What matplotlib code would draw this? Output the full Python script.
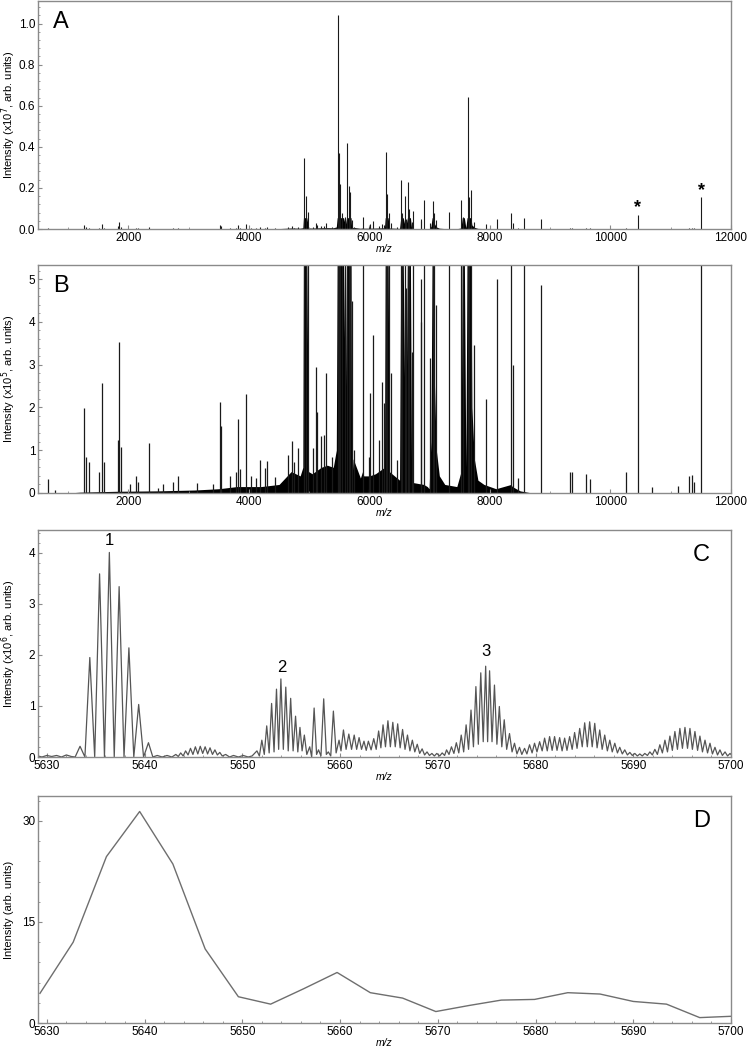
import matplotlib.pyplot as plt
import numpy as np
from matplotlib.ticker import MultipleLocator, AutoMinorLocator

plt.rcParams['font.family'] = ['Liberation Sans', 'DejaVu Sans']

# ---- panel A / B : full MALDI spectrum, peak list in units of 1e5 ----
ab_mz = [671, 780, 1265, 1298, 1354, 1509, 1558, 1591, 1835, 1851, 1879, 2020, 2128, 2160,
         2350, 2490, 2582, 2732, 2821, 3137, 3400, 3525, 3532, 3680, 3780, 3819, 3860, 3958,
         4030, 4120, 4180, 4274, 4301, 4430, 4646, 4707, 4746, 4818, 4910, 4948, 4975, 5060,
         5115, 5130, 5200, 5240, 5285, 5380, 5475, 5497, 5519, 5552, 5590, 5636, 5658, 5680,
         5708, 5750, 5896, 5990, 6017, 6062, 6155, 6210, 6238, 6273, 6295, 6317, 6360, 6450,
         6528, 6544, 6583, 6610, 6639, 6661, 6700, 6716, 6850, 6860, 6910, 7010, 7049, 7071,
         7104, 7326, 7525, 7558, 7635, 7657, 7680, 7730, 7930, 8123, 8355, 8390, 8460, 8560,
         8855, 9330, 9360, 9590, 9663, 10256, 10450, 10687, 11125, 11308, 11347, 11380, 11508]
ab_int = [0.33, 0.08, 1.99, 0.85, 0.72, 0.5, 2.56, 0.73, 1.25, 3.52, 1.08, 0.22, 0.4, 0.25,
          1.18, 0.12, 0.22, 0.26, 0.4, 0.24, 0.2, 2.13, 1.56, 0.4, 0.5, 1.73, 0.55, 2.31,
          0.4, 0.35, 0.77, 0.58, 0.75, 0.38, 0.9, 1.22, 0.72, 1.06, 34.5, 16.0, 8.5, 1.05,
          2.95, 1.9, 1.33, 1.35, 2.8, 0.85, 104.0, 37.0, 22.0, 7.6, 5.8, 42.0, 21.0, 18.0,
          4.5, 1.0, 6.0, 0.85, 2.33, 3.69, 1.24, 2.6, 2.1, 37.4, 17.0, 7.6, 2.8, 0.77,
          24.0, 7.6, 16.0, 4.8, 23.0, 9.6, 3.3, 9.0, 4.0, 5.0, 14.0, 3.15, 13.5, 7.6,
          4.4, 8.5, 14.0, 6.0, 64.5, 15.8, 19.0, 3.46, 2.2, 5.0, 7.6, 3.0, 0.35, 5.5,
          4.87, 0.5, 0.48, 0.44, 0.33, 0.48, 6.8, 0.15, 0.17, 0.39, 0.42, 0.25, 15.5]

# chemical background / peak skirts (units of 1e5)
bg_mz = [500, 1000, 1200, 1800, 2500, 3100, 3500, 3800, 4200, 4500, 4600, 4700, 4850, 4895,
         4905, 4960, 4990, 5050, 5200, 5300, 5400, 5450, 5465, 5570, 5600, 5620, 5695, 5705,
         5730, 5850, 5885, 5905, 6000, 6100, 6250, 6262, 6310, 6330, 6500, 6520, 6560, 6600,
         6630, 6680, 6700, 6900, 6960, 6990, 7020, 7040, 7065, 7080, 7110, 7160, 7250, 7450,
         7520, 7540, 7575, 7600, 7620, 7685, 7700, 7740, 7800, 7900, 8100, 8350, 8370, 8500,
         8700, 12000]
bg_int = [0.0, 0.0, 0.02, 0.04, 0.05, 0.07, 0.1, 0.15, 0.15, 0.2, 0.35, 0.5, 0.4, 0.6,
          5.5, 5.5, 0.5, 0.45, 0.6, 0.65, 0.6, 1.0, 5.5, 5.5, 2.0, 5.5, 5.5, 0.2,
          0.8, 0.35, 0.5, 0.4, 0.4, 0.45, 0.6, 5.5, 5.5, 0.5, 0.3, 5.5, 5.5, 0.4,
          5.5, 5.5, 0.25, 0.2, 0.15, 0.1, 1.2, 5.5, 5.5, 2.5, 1.0, 0.4, 0.2, 0.15,
          0.5, 5.5, 5.5, 0.6, 5.5, 5.5, 2.0, 0.8, 0.3, 0.2, 0.1, 0.2, 0.15, 0.05,
          0.0, 0.0]

star_mz = [10450, 11508]
star_int = [0.106, 0.187]

# ---- panel C : high resolution trace (units of 1e6) ----
c_mz = [5629.1, 5629.5, 5630.0, 5630.5, 5631.0, 5631.5, 5632.0, 5632.5, 5632.9,
        5633.4, 5633.9, 5634.4, 5634.9, 5635.4, 5635.9, 5636.4, 5636.9, 5637.4, 5637.9,
        5638.4, 5638.9, 5639.4, 5639.9, 5640.4, 5640.85,
        5641.3, 5641.8, 5642.3, 5642.8, 5643.2, 5643.45, 5643.7, 5643.95, 5644.2, 5644.45,
        5644.7, 5644.95, 5645.2, 5645.45, 5645.7, 5645.95, 5646.2, 5646.45, 5646.7, 5646.95,
        5647.2, 5647.45, 5647.7, 5647.95, 5648.3, 5648.7, 5649.1, 5649.6, 5650.1, 5650.6,
        5651.0, 5651.5, 5651.75, 5652.0, 5652.25, 5652.5, 5652.75, 5653.0, 5653.25, 5653.5,
        5653.72, 5653.95, 5654.2, 5654.45, 5654.7, 5654.95, 5655.2, 5655.45, 5655.68, 5655.9,
        5656.12, 5656.35, 5656.6, 5656.9, 5657.1, 5657.35, 5657.6, 5657.8, 5658.05, 5658.33,
        5658.6, 5658.8, 5659.05, 5659.32, 5659.6, 5659.9, 5660.1, 5660.35, 5660.62, 5660.9,
        5661.18, 5661.45, 5661.7, 5661.95, 5662.2, 5662.45, 5662.68, 5662.9, 5663.18, 5663.45,
        5663.7, 5663.95, 5664.18, 5664.4, 5664.65, 5664.9, 5665.15, 5665.4, 5665.65, 5665.9,
        5666.15, 5666.4, 5666.65, 5666.9, 5667.15, 5667.4, 5667.65, 5667.9, 5668.15, 5668.4,
        5668.65, 5668.9, 5669.15, 5669.4, 5669.65, 5669.9, 5670.2, 5670.45, 5670.7, 5670.9,
        5671.15, 5671.4, 5671.65, 5671.9, 5672.15, 5672.4, 5672.65, 5672.9, 5673.15, 5673.4,
        5673.65, 5673.9, 5674.15, 5674.4, 5674.65, 5674.9, 5675.1, 5675.3, 5675.55, 5675.8,
        5676.05, 5676.3, 5676.55, 5676.8, 5677.05, 5677.34, 5677.6, 5677.85, 5678.1, 5678.36,
        5678.6, 5678.88, 5679.12, 5679.39, 5679.65, 5679.9, 5680.15, 5680.42, 5680.68, 5680.93,
        5681.2, 5681.44, 5681.7, 5681.95, 5682.2, 5682.47, 5682.72, 5682.98, 5683.22, 5683.49,
        5683.75, 5684.0, 5684.25, 5684.52, 5684.78, 5685.03, 5685.3, 5685.54, 5685.8, 5686.06,
        5686.3, 5686.57, 5686.82, 5687.08, 5687.35, 5687.6, 5687.85, 5688.11, 5688.38, 5688.62,
        5688.88, 5689.13, 5689.4, 5689.65, 5689.9, 5690.16, 5690.42, 5690.67, 5690.92, 5691.18,
        5691.45, 5691.7, 5691.95, 5692.21, 5692.47, 5692.72, 5692.98, 5693.24, 5693.5, 5693.75,
        5694.0, 5694.26, 5694.52, 5694.77, 5695.03, 5695.29, 5695.55, 5695.8, 5696.05, 5696.31,
        5696.58, 5696.82, 5697.08, 5697.34, 5697.6, 5697.85, 5698.1, 5698.36, 5698.62, 5698.87,
        5699.12, 5699.39, 5699.65, 5699.9, 5700.0]
c_int = [0.02, 0.0, 0.03, 0.01, 0.03, 0.0, 0.04, 0.01, 0.0,
         0.21, 0.0, 1.95, 0.0, 3.59, 0.0, 4.01, 0.0, 3.34, 0.0,
         2.14, 0.0, 1.03, 0.0, 0.28, 0.0,
         0.03, 0.0, 0.03, 0.0, 0.05, 0.01, 0.08, 0.02, 0.12, 0.04,
         0.17, 0.05, 0.2, 0.06, 0.21, 0.07, 0.2, 0.06, 0.18, 0.05,
         0.14, 0.04, 0.09, 0.02, 0.05, 0.0, 0.03, 0.0, 0.03, 0.0,
         0.02, 0.12, 0.02, 0.33, 0.05, 0.61, 0.08, 1.05, 0.1, 1.33,
         0.15, 1.53, 0.15, 1.37, 0.12, 1.15, 0.12, 0.8, 0.1, 0.58,
         0.12, 0.43, 0.05, 0.2, 0.0, 0.96, 0.05, 0.14, 0.02, 1.14,
         0.05, 0.1, 0.02, 0.9, 0.08, 0.33, 0.12, 0.53, 0.15, 0.45,
         0.15, 0.43, 0.15, 0.38, 0.15, 0.31, 0.13, 0.31, 0.14, 0.36,
         0.15, 0.51, 0.18, 0.63, 0.2, 0.71, 0.2, 0.68, 0.2, 0.65,
         0.18, 0.54, 0.15, 0.43, 0.12, 0.33, 0.1, 0.25, 0.07, 0.16,
         0.04, 0.1, 0.03, 0.07, 0.02, 0.07, 0.02, 0.08, 0.03, 0.14,
         0.05, 0.2, 0.07, 0.28, 0.08, 0.43, 0.1, 0.63, 0.15, 0.92,
         0.2, 1.38, 0.25, 1.65, 0.3, 1.78, 0.3, 1.69, 0.3, 1.41,
         0.25, 0.99, 0.2, 0.73, 0.15, 0.46, 0.1, 0.27, 0.06, 0.19,
         0.05, 0.17, 0.06, 0.24, 0.08, 0.27, 0.1, 0.3, 0.12, 0.37,
         0.12, 0.4, 0.13, 0.4, 0.13, 0.38, 0.12, 0.37, 0.13, 0.4,
         0.15, 0.48, 0.17, 0.56, 0.2, 0.67, 0.2, 0.69, 0.2, 0.66,
         0.18, 0.53, 0.15, 0.43, 0.12, 0.33, 0.1, 0.27, 0.08, 0.19,
         0.06, 0.14, 0.04, 0.09, 0.03, 0.07, 0.02, 0.06, 0.02, 0.07,
         0.03, 0.1, 0.04, 0.15, 0.05, 0.24, 0.08, 0.33, 0.1, 0.41,
         0.13, 0.5, 0.15, 0.56, 0.17, 0.58, 0.17, 0.56, 0.15, 0.5,
         0.13, 0.41, 0.1, 0.33, 0.08, 0.27, 0.06, 0.19, 0.04, 0.14,
         0.03, 0.1, 0.02, 0.07, 0.05]
c_labels = ['1', '2', '3']
c_label_mz = [5636.4, 5654.0, 5674.95]
c_label_int = [4.25, 1.76, 2.06]

# ---- panel D : low resolution trace ----
d_mz = [5629.3, 5632.7, 5636.1, 5639.5, 5642.9, 5646.2, 5649.6, 5652.9, 5656.3, 5659.7, 5663.1,
        5666.4, 5669.8, 5673.2, 5676.5, 5679.9, 5683.3, 5686.6, 5690.0, 5693.4, 5696.8, 5700.1]
d_int = [4.4, 12.0, 24.7, 31.4, 23.6, 11.0, 3.9, 2.8, 5.1, 7.5, 4.5,
         3.7, 1.7, 2.6, 3.4, 3.5, 4.5, 4.3, 3.2, 2.8, 0.8, 1.0]

fig = plt.figure(figsize=(7.48, 10.5), dpi=100)
fig.set(facecolor='white')

left, width = 38 / 748, 693 / 748
axA = fig.add_axes([left, 1 - 229 / 1050, width, 228 / 1050])
axB = fig.add_axes([left, 1 - 493 / 1050, width, 228 / 1050])
axC = fig.add_axes([left, 1 - 757 / 1050, width, 227 / 1050])
axD = fig.add_axes([left, 1 - 1023 / 1050, width, 227 / 1050])

ab_mz_a = np.array(ab_mz)
ab_int_a = np.array(ab_int)
bg_int_a = np.array(bg_int)

# A
axA.fill_between(bg_mz, bg_int_a / 100, color='black', lw=0)
axA.vlines(ab_mz_a, 0, ab_int_a / 100, color='#1a1a1a', lw=0.8)
for m, v in zip(star_mz, star_int):
    axA.text(m, v, '*', ha='center', va='center', fontsize=13, fontweight='bold')
axA.set_xlim(500, 12000)
axA.set_ylim(0, 1.11)
axA.yaxis.set_major_locator(MultipleLocator(0.2))
axA.yaxis.set_major_formatter(plt.FormatStrFormatter('%.1f'))
axA.set_ylabel('Intensity (x10$^7$, arb. units)', fontsize=8)

# B
axB.fill_between(bg_mz, bg_int_a, color='black', lw=0)
axB.vlines(ab_mz_a, 0, ab_int_a, color='#1a1a1a', lw=0.9)
axB.set_xlim(500, 12000)
axB.set_ylim(0, 5.33)
axB.yaxis.set_major_locator(MultipleLocator(1))
axB.set_ylabel('Intensity (x10$^5$, arb. units)', fontsize=8)

for ax in (axA, axB):
    ax.xaxis.set_major_locator(MultipleLocator(2000))
    ax.xaxis.set_minor_locator(MultipleLocator(1000))

# C
axC.plot(c_mz, c_int, color='#555555', lw=0.9)
for t, m, v in zip(c_labels, c_label_mz, c_label_int):
    axC.text(m, v, t, ha='center', va='center', fontsize=12)
axC.set_xlim(5629.1, 5700)
axC.set_ylim(0, 4.45)
axC.yaxis.set_major_locator(MultipleLocator(1))
axC.set_ylabel('Intensity (x10$^6$, arb. units)', fontsize=8)

# D
axD.plot(d_mz, d_int, color='#6e6e6e', lw=1.0)
axD.set_xlim(5629.1, 5700)
axD.set_ylim(0, 33.7)
axD.yaxis.set_major_locator(MultipleLocator(15))
axD.set_ylabel('Intensity (arb. units)', fontsize=8)

for ax in (axC, axD):
    ax.xaxis.set_major_locator(MultipleLocator(10))
    ax.xaxis.set_minor_locator(MultipleLocator(2))

letters = ['A', 'B', 'C', 'D']
letter_pos = [(0.022, 0.91), (0.022, 0.91), (0.97, 0.89), (0.97, 0.89)]
for ax, lab, (lx, ly) in zip((axA, axB, axC, axD), letters, letter_pos):
    ax.text(lx, ly, lab, transform=ax.transAxes, fontsize=17,
            ha='left' if lx < 0.5 else 'right', va='center')
    ax.yaxis.set_minor_locator(AutoMinorLocator(5))
    for s in ax.spines.values():
        s.set_color('#8a8a8a')
        s.set_linewidth(1.0)
    ax.tick_params(which='both', direction='in', colors='#8a8a8a', labelcolor='black',
                   labelsize=8.5, pad=2)
    ax.tick_params(which='major', length=3)
    ax.tick_params(which='minor', length=1.5)
    ax.set_xlabel('m/z', fontsize=7.5, style='italic', labelpad=0)
    ax.yaxis.label.set_va('center')
    ax.yaxis.set_label_coords(-0.0425, 0.5)

fig.savefig('out.png', dpi=100, facecolor='white')
